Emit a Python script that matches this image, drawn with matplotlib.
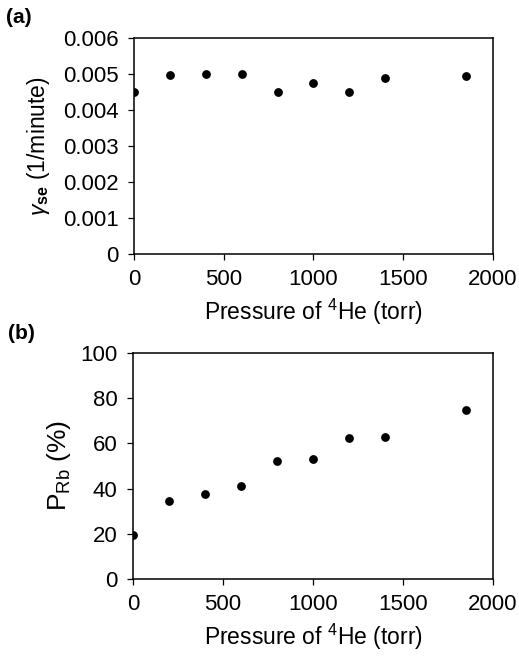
import matplotlib
matplotlib.use("Agg")
import matplotlib.pyplot as plt
import numpy as np

plt.rcParams['font.family'] = ['Liberation Sans', 'DejaVu Sans']
plt.rcParams['mathtext.fontset'] = 'custom'
plt.rcParams['mathtext.rm'] = 'Liberation Sans'
plt.rcParams['mathtext.it'] = 'Liberation Sans:italic'
plt.rcParams['mathtext.bf'] = 'Liberation Sans:bold'

# data
pressure = [0, 200, 400, 600, 800, 1000, 1200, 1400, 1850]
gamma_se = [0.00449, 0.00497, 0.00499, 0.00499, 0.00449, 0.00473, 0.00449, 0.00488, 0.00493]
p_rb = [19.5, 34.5, 37.5, 41.2, 52.2, 53.1, 62.3, 62.7, 74.9]

xticks = [0, 500, 1000, 1500, 2000]
xlab = r'Pressure of $^{4}$He (torr)'

fig = plt.figure(figsize=(5.19, 6.61), dpi=100)
ax1 = fig.add_axes([0.258, 0.616, 0.692, 0.327])
ax2 = fig.add_axes([0.256, 0.124, 0.694, 0.342])

def style(ax):
    for s in ax.spines.values():
        s.set_linewidth(1.1)
    ax.tick_params(direction='out', length=4, width=0.9, labelsize=16,
                   top=False, right=False)
    ax.tick_params(axis='x', pad=7)
    ax.tick_params(axis='y', pad=7)
    ax.set_xlim(0, 2000)
    ax.set_xticks(xticks)

## (a) spin-exchange rate
ax1.plot(pressure, gamma_se, 'o', color='black', markersize=5.3)
style(ax1)
ax1.set_ylim(0, 0.006)
ax1.set_yticks(np.arange(0, 0.0061, 0.001))
ax1.set_yticklabels(['0', '0.001', '0.002', '0.003', '0.004', '0.005', '0.006'])
ax1.set_xlabel(xlab, fontsize=16.5, labelpad=5)
ax1.set_ylabel(r'$\gamma_{\bf se}$ (1/minute)', fontsize=16.5, labelpad=8)

## (b) Rb polarization
ax2.plot(pressure, p_rb, 'o', color='black', markersize=5.3)
style(ax2)
ax2.set_ylim(0, 100)
ax2.set_yticks(range(0, 101, 20))
ax2.set_xlabel(xlab, fontsize=16.5, labelpad=5)
ax2.set_ylabel(r'P$_{\rm Rb}$ (%)', fontsize=19, labelpad=5)

fig.text(0.012, 0.973, '(a)', fontsize=15, fontweight='bold', va='center')
fig.text(0.016, 0.496, '(b)', fontsize=15, fontweight='bold', va='center')

plt.savefig('out.png', dpi=100)
